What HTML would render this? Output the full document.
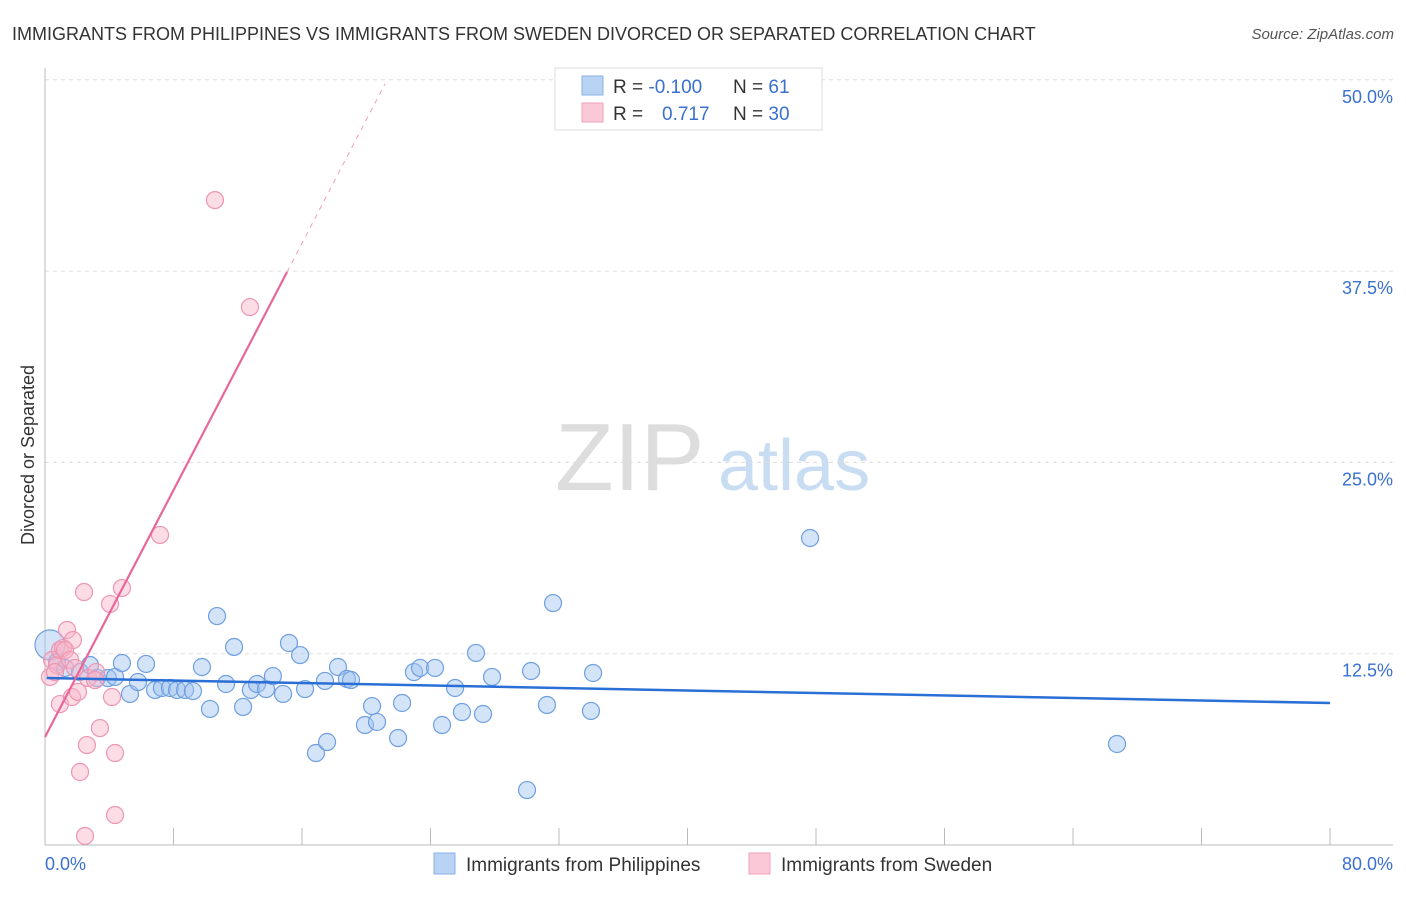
<!DOCTYPE html>
<html><head><meta charset="utf-8"><style>
body{margin:0;background:#fff;font-family:"Liberation Sans",sans-serif;}
svg text{font-family:"Liberation Sans",sans-serif;}
</style></head><body>
<svg id="c" width="1406" height="892">
<text x="12" y="40" font-size="18" fill="#333">IMMIGRANTS FROM PHILIPPINES VS IMMIGRANTS FROM SWEDEN DIVORCED OR SEPARATED CORRELATION CHART</text>
<text x="1394" y="39" font-size="15" fill="#555" font-style="italic" text-anchor="end">Source: ZipAtlas.com</text>
<text transform="translate(34,455) rotate(-90)" font-size="18" fill="#333" text-anchor="middle">Divorced or Separated</text>
<text x="555" y="490" font-size="96" fill="#ddd" font-family="Liberation Serif">ZIP</text>
<text x="718" y="490" font-size="72" fill="#c8dcf2">atlas</text>
<g id="grid"></g><g id="pts"></g><g id="lines"></g>
<g>
<rect x="555" y="68" width="267" height="62" fill="#fff" stroke="#ddd"/>
<rect x="582" y="76" width="21" height="19" fill="#b9d3f5" stroke="#8ab0e6"/>
<rect x="582" y="103" width="21" height="19" fill="#fbc8d8" stroke="#f0a0ba"/>
<text x="613" y="93" font-size="19" fill="#333">R = <tspan fill="#3a70d0">-0.100</tspan></text>
<text x="733" y="93" font-size="19" fill="#333">N = <tspan fill="#3a70d0"> 61</tspan></text>
<text x="613" y="120" font-size="19" fill="#333">R = </text>
<text x="662" y="120" font-size="19" fill="#3a70d0">0.717</text>
<text x="733" y="120" font-size="19" fill="#333">N = <tspan fill="#3a70d0">30</tspan></text>
</g>
<g>
<rect x="434" y="853" width="21" height="21" fill="#b9d3f5" stroke="#8ab0e6"/>
<text x="466" y="871" font-size="19" fill="#333">Immigrants from Philippines</text>
<rect x="749" y="853" width="21" height="21" fill="#fbc8d8" stroke="#f0a0ba"/>
<text x="781" y="871" font-size="19" fill="#333">Immigrants from Sweden</text>
</g>
</svg>
<script>
const blueX=[0.31,0.75,1.25,2.18,2.80,3.24,3.92,4.36,4.79,5.29,5.79,6.29,6.85,7.28,7.78,8.22,8.72,9.21,9.77,10.27,10.71,11.27,11.77,12.33,12.82,13.20,13.76,14.19,14.82,15.19,15.88,16.19,16.87,17.43,17.56,18.24,18.80,19.05,19.92,20.36,20.67,21.98,22.23,22.97,23.35,24.28,24.72,25.53,25.96,26.83,27.27,27.83,30.26,31.25,31.63,30.01,33.99,34.12,47.63,66.74];
const blueY=[13.07,11.96,11.57,11.30,11.76,10.91,10.91,10.98,11.89,9.87,10.65,11.83,10.13,10.26,10.26,10.13,10.13,10.06,11.63,8.89,14.96,10.52,12.94,9.02,10.13,10.52,10.19,11.04,9.87,13.20,12.41,10.19,6.01,10.72,6.73,11.63,10.85,10.78,7.84,9.08,8.04,6.99,9.28,11.30,11.57,11.57,7.84,10.26,8.69,12.55,8.56,10.98,11.37,9.15,15.81,3.59,8.76,11.24,20.06,6.60];
const pinkX=[0.31,0.44,0.75,0.93,1.12,1.37,1.74,0.93,1.68,2.05,2.43,2.61,2.18,2.68,3.18,3.42,4.05,4.17,4.36,4.36,4.79,7.16,10.58,12.76,2.49,1.25,0.62,1.56,1.87,3.11];
const pinkY=[10.98,12.09,11.76,12.74,12.87,14.05,13.39,9.21,9.67,10.00,16.53,6.53,4.77,10.91,11.30,7.64,15.75,9.67,6.01,1.96,16.79,20.26,42.14,35.15,0.59,12.74,11.30,12.09,11.57,10.78];
const yTicks=[12.5,25,37.5,50];
const blueTrend=[10.91,9.28];
const pinkTrend=[7.06,2.016];
const NS='http://www.w3.org/2000/svg';
const X=v=>45+v/80*1285, Y=v=>845-v/12.5*191.3;
function mk(t,a,p){const e=document.createElementNS(NS,t);for(const k in a)e.setAttribute(k,a[k]);p.appendChild(e);return e;}
const g=document.getElementById('grid');
yTicks.forEach(t=>{const l=mk('line',{x1:45,x2:1393,y1:Y(t),y2:Y(t),stroke:'#ddd','stroke-dasharray':'4,4'},g);


const tx=mk('text',{x:1393,y:Y(t)+23,'font-size':18,fill:'#3a70d0','text-anchor':'end'},g);tx.textContent=t.toFixed(1)+'%';

});
mk('line',{x1:45,x2:45,y1:68,y2:845,stroke:'#bbb'},g);
mk('line',{x1:45,x2:1393,y1:845,y2:845,stroke:'#bbb'},g);
for(let i=1;i<=10;i++){const l=mk('line',{x1:X(i*8),x2:X(i*8),y1:828,y2:845,stroke:'#bbb'},g);

}
const x0=mk('text',{x:45,y:870,'font-size':18,fill:'#3a70d0'},g);x0.textContent='0.0%';


const x1=mk('text',{x:1393,y:870,'font-size':18,fill:'#3a70d0','text-anchor':'end'},g);x1.textContent='80.0%';


const p=document.getElementById('pts');
blueX.forEach((x,i)=>{const c=mk('circle',{cx:X(x),cy:Y(blueY[i]),r:i==0?15:8.5,fill:'rgba(160,196,240,0.45)',stroke:'#6f9fe0','stroke-width':1.2},p);

});
pinkX.forEach((x,i)=>{const c=mk('circle',{cx:X(x),cy:Y(pinkY[i]),r:8.5,fill:'rgba(248,180,200,0.45)',stroke:'#ee95b2','stroke-width':1.2},p);

});
const L=document.getElementById('lines');
const bl=mk('line',{x1:X(0.1),y1:Y(blueTrend[0]),x2:X(80),y2:Y(blueTrend[1]),stroke:'#2a6fd6','stroke-width':2.5},L);


const pk=mk('line',{x1:X(0),y1:Y(pinkTrend[0]),x2:X(15.07),y2:Y(pinkTrend[0]+pinkTrend[1]*15.07),stroke:'#e8679a','stroke-width':2.2},L);


const pd=mk('line',{x1:X(15.07),y1:Y(pinkTrend[0]+pinkTrend[1]*15.07),x2:X(21.17),y2:Y(pinkTrend[0]+pinkTrend[1]*21.17),stroke:'#f0a0ba','stroke-width':1,'stroke-dasharray':'5,5'},L);


</script>
</body></html>
